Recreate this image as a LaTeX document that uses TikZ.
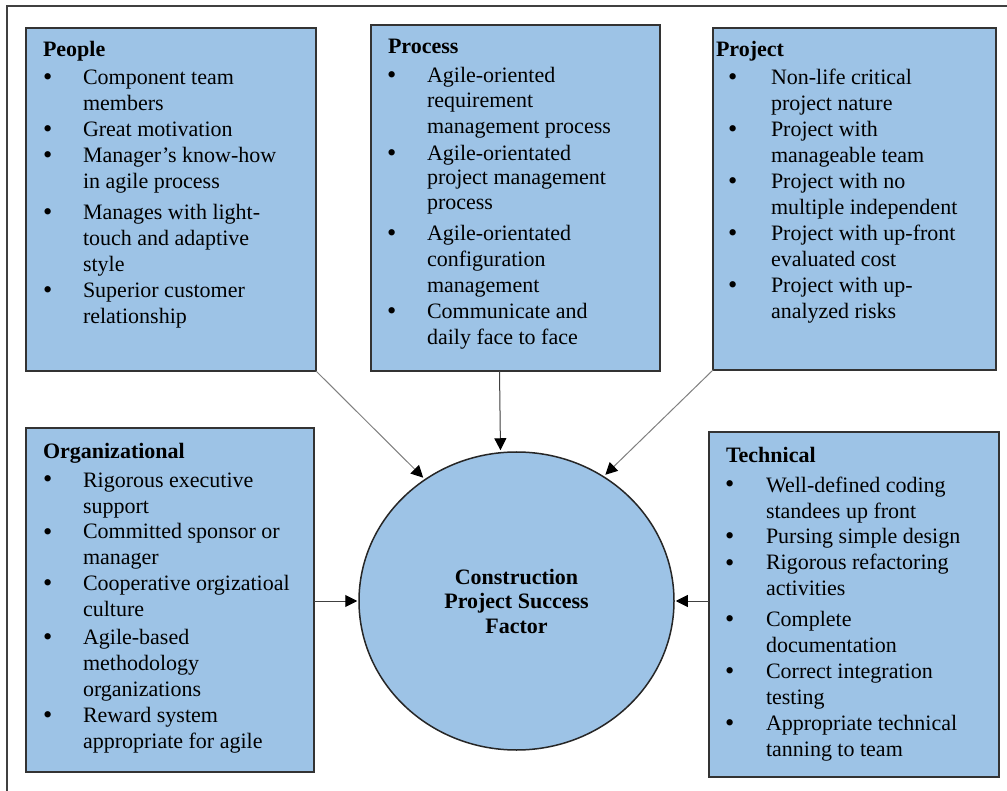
\documentclass[tikz,border=0pt]{standalone}
\usepackage{fontspec}
\setmainfont{Liberation Serif}
\usetikzlibrary{shapes.geometric,arrows.meta}
\definecolor{boxblue}{RGB}{157,195,230}
\newcommand\bul[2]{\makebox[#2][l]{\hspace{#1}\raisebox{-1pt}{\scalebox{1.2}{\textbullet}}}}
\begin{document}
\begin{tikzpicture}[x=1pt,y=-1pt,
  box/.style={draw=black!80,line width=1.5pt,fill=boxblue,inner sep=0pt,outer sep=0pt},
  lst/.style={anchor=base west,inner sep=0pt,outer sep=0pt,font=\fontsize{22}{26}\selectfont},
  arr/.style={line width=1pt,-{Triangle[length=12pt,width=12pt,color=black]}},
  lightarr/.style={arr,draw=black!50,shorten >=2pt},
  darkarr/.style={arr,draw=black!75,shorten >=1pt},
]
\useasboundingbox (0,0) rectangle (1007,791);
\fill[white] (0,0) rectangle (1007,791);
% outer frame (only top and left edges are visible)
\draw[line width=2pt,black!75] (1007,6) -- (6.5,6) -- (6.5,791);

% boxes
\node[box,minimum width=290pt,minimum height=343pt] (people) at (171,199.5) {};
\node[box,minimum width=289pt,minimum height=346pt] (process) at (515.5,198) {};
\node[box,minimum width=283pt,minimum height=342pt] (project) at (854.5,199) {};
\node[box,minimum width=288pt,minimum height=344pt] (org) at (170,600) {};
\node[box,minimum width=290pt,minimum height=345pt] (tech) at (854,604.5) {};

% centre
\node[ellipse,draw=black!85,line width=1.5pt,fill=boxblue,minimum width=315pt,minimum height=298pt,
      inner sep=0pt,align=center,font=\bfseries\fontsize{22}{24.5}\selectfont] (ell) at (516.5,601)
      {Construction\\Project Success\\Factor};

% texts
\node[lst] (peopletxt) at (43,57) {\begin{tabular}[t]{@{}l@{}l@{}}
\multicolumn{2}{@{}l@{}}{\textbf{People}}\\[2pt]
\bul{0pt}{40pt} & Component team\\
 & members\\
\bul{0pt}{40pt} & Great motivation\\
\bul{0pt}{40pt} & Manager's know-how\\
 & in agile process\\[5pt]
\bul{0pt}{40pt} & Manages with light-\\
 & touch and adaptive\\
 & style\\
\bul{0pt}{40pt} & Superior customer\\
 & relationship
\end{tabular}};

\node[lst] (processtxt) at (388,54) {\begin{tabular}[t]{@{}l@{}l@{}}
\multicolumn{2}{@{}l@{}}{\textbf{Process}}\\[3pt]
\bul{-1pt}{39pt} & Agile-oriented\\[-1pt]
 & requirement\\
 & management process\\[1pt]
\bul{-1pt}{39pt} & Agile-orientated\\[-2pt]
 & project management\\[-1pt]
 & process\\[5pt]
\bul{-1pt}{39pt} & Agile-orientated\\
 & configuration\\
 & management\\
\bul{-1pt}{39pt} & Communicate and\\
 & daily face to face
\end{tabular}};

\node[lst] (projecttxt) at (716,57) {\begin{tabular}[t]{@{}l@{}l@{}}
\multicolumn{2}{@{}l@{}}{\textbf{Project}}\\[2pt]
\bul{12pt}{55pt} & Non-life critical\\
 & project nature\\
\bul{12pt}{55pt} & Project with\\
 & manageable team\\
\bul{12pt}{55pt} & Project with no\\
 & multiple independent\\
\bul{12pt}{55pt} & Project with up-front\\
 & evaluated cost\\
\bul{12pt}{55pt} & Project with up-\\
 & analyzed risks
\end{tabular}};

\node[lst] (orgtxt) at (43,458) {\begin{tabular}[t]{@{}l@{}l@{}}
\multicolumn{2}{@{}l@{}}{\textbf{Organizational}}\\[3pt]
\bul{0pt}{40pt} & Rigorous executive\\
 & support\\
\bul{0pt}{40pt} & Committed sponsor or\\
 & manager\\
\bul{0pt}{40pt} & Cooperative orgizatioal\\
 & culture\\[2pt]
\bul{0pt}{40pt} & Agile-based\\
 & methodology\\
 & organizations\\
\bul{0pt}{40pt} & Reward system\\
 & appropriate for agile
\end{tabular}};

\node[lst] (techtxt) at (726,463) {\begin{tabular}[t]{@{}l@{}l@{}}
\multicolumn{2}{@{}l@{}}{\textbf{Technical}}\\[3pt]
\bul{-1pt}{40pt} & Well-defined coding\\
 & standees up front\\
\bul{-1pt}{40pt} & Pursing simple design\\
\bul{-1pt}{40pt} & Rigorous refactoring\\
 & activities\\[5pt]
\bul{-1pt}{40pt} & Complete\\
 & documentation\\
\bul{-1pt}{40pt} & Correct integration\\
 & testing\\
\bul{-1pt}{40pt} & Appropriate technical\\
 & tanning to team
\end{tabular}};

% connectors
\draw[lightarr] (people.south east) -- (ell.127);
\draw[lightarr] (project.south west) -- (ell.55);
\draw[darkarr] ([xshift=-16pt]process.south) -- ([xshift=-16pt]ell.north);
\draw[darkarr] (org.east |- ell.west) -- (ell.west);
\draw[darkarr] (tech.west |- ell.east) -- (ell.east);
\end{tikzpicture}
\end{document}
